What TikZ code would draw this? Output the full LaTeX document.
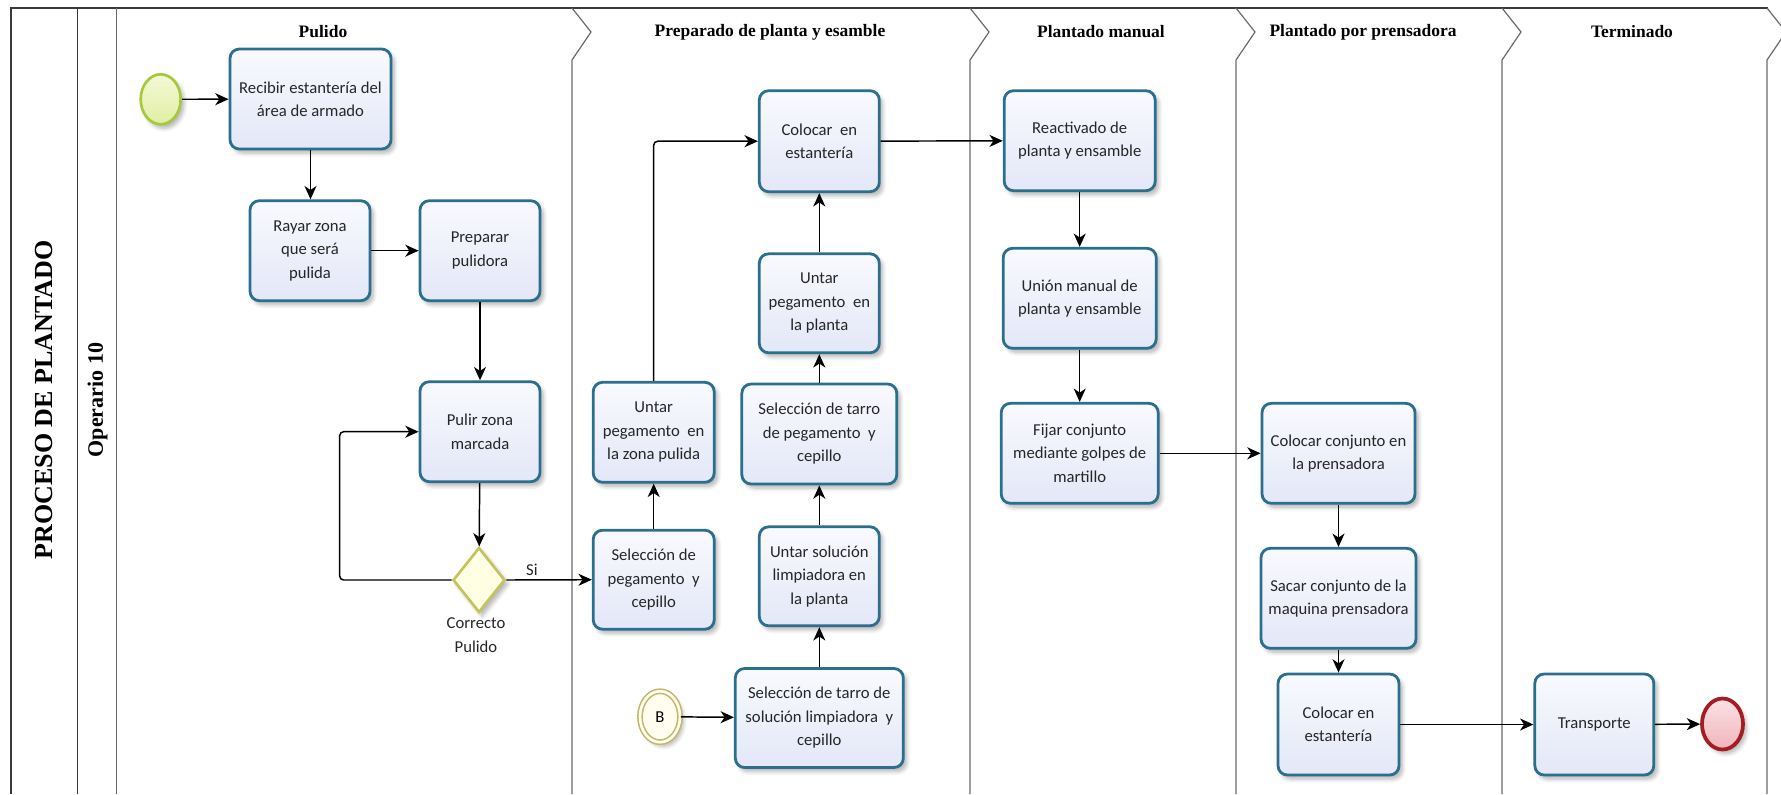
\documentclass[tikz,border=0pt]{standalone}
\usepackage{fontspec}
\setmainfont{Liberation Serif}
\newfontfamily\taskfont{Carlito}
\usetikzlibrary{arrows.meta,shapes.geometric,shadows.blur}

\definecolor{taskline}{HTML}{2A6F8E}
\definecolor{tasktop}{HTML}{F9FAFE}
\definecolor{taskbot}{HTML}{E3E7F7}
\definecolor{startline}{HTML}{A6C93B}
\definecolor{starttop}{HTML}{F3F9D6}
\definecolor{startbot}{HTML}{E1EEA4}
\definecolor{endline}{HTML}{A51C24}
\definecolor{endtop}{HTML}{FBE2E4}
\definecolor{endbot}{HTML}{EFB5BA}
\definecolor{gateline}{HTML}{C5C45C}
\definecolor{gatefill}{HTML}{FFFFE4}
\definecolor{linkline}{HTML}{C2B96A}
\definecolor{linkfill}{HTML}{FFFDF0}
\definecolor{poolline}{HTML}{3A3A3A}
\definecolor{phaseline}{HTML}{6A6A6A}

\begin{document}
\begin{tikzpicture}[x=0.75pt,y=-0.75pt,
  sz/.style 2 args={minimum width=#1*0.75pt, minimum height=#2*0.75pt},
  softshadow/.style={blur shadow={shadow xshift=2.5pt, shadow yshift=-3pt,
      shadow blur steps=6, shadow blur radius=3pt, shadow opacity=30}},
  task/.style={rectangle, rounded corners=7pt, draw=taskline, line width=2.1pt,
      top color=tasktop, bottom color=taskbot, softshadow, align=center,
      inner sep=2pt, text=black!85, font=\taskfont\fontsize{12.5}{17.6}\selectfont},
  startev/.style={ellipse, draw=startline, line width=2pt, top color=starttop,
      bottom color=startbot, inner sep=0pt, softshadow, sz={40}{50}},
  endev/.style={ellipse, draw=endline, line width=2.8pt, top color=endtop,
      bottom color=endbot, inner sep=0pt, softshadow, sz={41}{51}},
  linkev/.style={ellipse, draw=linkline, line width=1.2pt, double=linkfill,
      double distance=2pt, fill=linkfill, inner sep=0pt, softshadow, sz={40}{51},
      font=\taskfont\fontsize{12.5}{14}\selectfont},
  gate/.style={diamond, draw=gateline, line width=2pt, fill=gatefill,
      inner sep=0pt, softshadow, sz={52}{65}},
  flow/.style={line width=1.1pt, draw=black,
      -{Stealth[length=10pt, width=9pt, inset=3pt]}},
  phasetitle/.style={font=\bfseries\fontsize{13.1}{15}\selectfont},
  lbl/.style={font=\taskfont\fontsize{12.5}{17.6}\selectfont, align=center, text=black!85},
  poolrule/.style={draw=poolline, line width=1.2pt},
  phaserule/.style={draw=phaseline, line width=0.9pt}]

\useasboundingbox (0,0) rectangle (1781,794);

% pool frame and lane header
\draw[poolrule] (11,794) -- (11,8) -- (1768,8);
\draw[poolrule] (77.5,8) -- (77.5,794);
\draw[phaserule] (116.7,8) -- (116.7,794);

% phase separators (chevron heads)
\foreach \px in {572,970,1236,1502,1767}
  \draw[phaserule] (\px,8) -- (\px+19,32) -- (\px,60) -- (\px,794);

% pool and lane names
\node[rotate=90, font=\bfseries\fontsize{19.5}{22}\selectfont] (pool) at (44,400) {PROCESO DE PLANTADO};
\node[rotate=90, font=\bfseries\fontsize{16.5}{19}\selectfont] (lane) at (97.5,400) {Operario 10};

% phase titles
\node[phasetitle] (ph1) at (323,32) {Pulido};
\node[phasetitle] (ph2) at (770,32) {Preparado de planta y esamble};
\node[phasetitle] (ph3) at (1101,32) {Plantado manual};
\node[phasetitle] (ph4) at (1363,32) {Plantado por prensadora};
\node[phasetitle] (ph5) at (1632,32) {Terminado};

% Pulido
\node[startev] (start) at (160.7,99.3) {};
\node[task, sz={161}{100}] (rec) at (310.5,99) {Recibir estantería del\\área de armado};
\node[task, sz={120}{100}] (ray) at (310,250.7) {Rayar zona\\que será\\pulida};
\node[task, sz={120}{100}] (prep) at (480,250.7) {Preparar\\pulidora};
\node[task, sz={120}{100}] (pul) at (480,431.7) {Pulir zona\\marcada};
\node[gate] (gw) at (479,580) {};
\node[lbl] (gwl) at (476,635) {Correcto\\Pulido};

% Preparado de planta y esamble
\node[task, sz={121}{100}] (untz) at (653.7,432.3) {Untar\\pegamento~ en\\la zona pulida};
\node[task, sz={121}{99}] (selp) at (653.7,579.7) {Selección de\\pegamento~ y\\cepillo};
\node[task, sz={120}{101}] (colf) at (819.3,141.2) {Colocar~ en\\estantería};
\node[task, sz={120}{99}] (untp) at (819.3,303.3) {Untar\\pegamento~ en\\la planta};
\node[task, sz={155}{100}] (selt) at (819.3,434) {Selección de tarro\\de pegamento~ y\\cepillo};
\node[task, sz={120}{99}] (unts) at (819.3,576.3) {Untar solución\\limpiadora en\\la planta};
\node[task, sz={168}{99}] (sels) at (819.3,718) {Selección de tarro de\\solución limpiadora~ y\\cepillo};
\node[linkev] (evb) at (660,716.7) {B};

% Plantado manual
\node[task, sz={151}{100}] (react) at (1079.7,140.7) {Reactivado de\\planta y ensamble};
\node[task, sz={153}{100}] (union) at (1079.7,298.3) {Unión manual de\\planta y ensamble};
\node[task, sz={157}{100}] (fijar) at (1079.7,453.3) {Fijar conjunto\\mediante golpes de\\martillo};

% Plantado por prensadora
\node[task, sz={153}{100}] (colc) at (1338.5,453.3) {Colocar conjunto en\\la prensadora};
\node[task, sz={155}{100}] (sacar) at (1338.5,598.3) {Sacar conjunto de la\\maquina prensadora};
\node[task, sz={121}{101}] (cole) at (1338.5,724.5) {Colocar en\\estantería};

% Terminado
\node[task, sz={119}{101}] (trans) at (1594.3,724.5) {Transporte};
\node[endev] (end) at (1722.5,724) {};

% sequence flows
\draw[flow] (start) -- (rec);
\draw[flow] (rec) -- (rec |- ray.north);
\draw[flow] (ray) -- (prep);
\draw[flow] (prep) -- (pul);
\draw[flow] (pul) -- (gw);
\draw[flow, rounded corners=3pt] (gw.west) -- ++(-112,0) |- (pul.west);
\draw[flow] (gw.east) -- node[lbl, above, pos=0.3, yshift=-1pt] (si) {Si} (selp.west);
\draw[flow] (selp) -- (untz);
\draw[flow, rounded corners=3pt] (untz.north) |- (colf.west);
\draw[flow] (evb) -- (sels);
\draw[flow] (sels) -- (unts);
\draw[flow] (unts) -- (selt);
\draw[flow] (selt) -- (untp);
\draw[flow] (untp) -- (colf);
\draw[flow] (colf) -- (react);
\draw[flow] (react) -- (union);
\draw[flow] (union) -- (fijar);
\draw[flow] (fijar) -- (colc);
\draw[flow] (colc) -- (sacar);
\draw[flow] (sacar) -- (cole);
\draw[flow] (cole) -- (trans);
\draw[flow] (trans) -- (end);
\end{tikzpicture}
\end{document}
